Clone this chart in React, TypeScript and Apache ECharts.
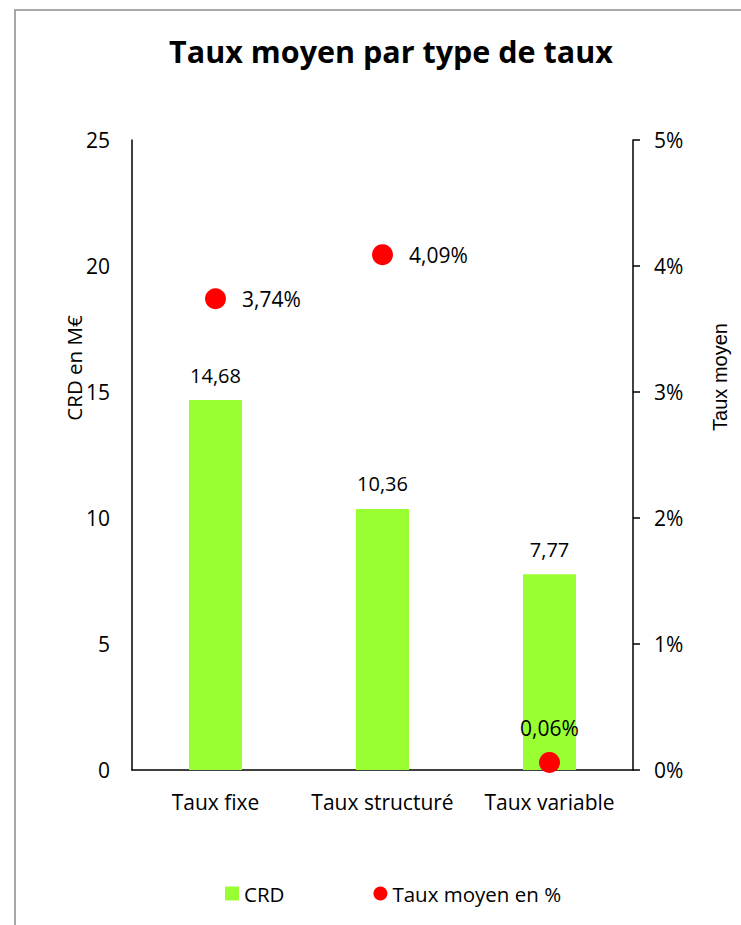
import React, { useEffect, useRef } from "react";
import * as echarts from "echarts";

const categories = ["Taux fixe", "Taux structuré", "Taux variable"];
const crdValues = [14.68, 10.36, 7.77];
const tauxValues = [3.74, 4.09, 0.06];
const leftTicks = { min: 0, max: 25, interval: 5 };
const rightTicks = { min: 0, max: 5, interval: 1 };

const FONT = "'Open Sans', sans-serif";
const FS = 21;
const fmt = (v: number, d = 2) => v.toFixed(d).replace(".", ",");

export default function App() {
  const ref = useRef<HTMLDivElement>(null);
  useEffect(() => {
    if (!ref.current) return;
    const chart = echarts.init(ref.current, null, { renderer: "svg" });
    chart.setOption({
      animation: false,
      backgroundColor: "#fff",
      textStyle: { fontFamily: FONT },
      title: {
        text: "Taux moyen par type de taux",
        left: 386,
        top: 30,
        textAlign: "center",
        textStyle: { fontFamily: FONT, fontSize: 30.5, fontWeight: "bold", color: "#000" },
      },
      graphic: [
        {
          type: "rect",
          shape: { x: 15, y: 10, width: 900, height: 1000 },
          style: { fill: "none", stroke: "#8c8c8c", lineWidth: 1.5 },
          silent: true,
        },
        {
          type: "text",
          x: 74,
          y: 368,
          rotation: Math.PI / 2,
          style: {
            text: "CRD en M€",
            fontFamily: FONT,
            fontSize: 20.5,
            fill: "#000",
            align: "center",
            verticalAlign: "middle",
          },
        },
        {
          type: "text",
          x: 720,
          y: 377,
          rotation: Math.PI / 2,
          style: {
            text: "Taux moyen",
            fontFamily: "'Liberation Sans', Arial, sans-serif",
            fontSize: 20,
            fill: "#000",
            align: "center",
            verticalAlign: "middle",
          },
        },
      ],
      legend: {
        left: 220,
        top: 878,
        itemGap: 89,
        itemWidth: 14,
        itemHeight: 14,
        textStyle: { fontFamily: FONT, fontSize: 20.5, color: "#000" },
        data: [
          { name: "CRD", icon: "rect" },
          { name: "Taux moyen en %", icon: "circle" },
        ],
      },
      grid: { left: 132, right: 108, top: 140, bottom: 155 },
      xAxis: {
        type: "category",
        data: categories,
        axisLine: { lineStyle: { color: "#000", width: 1.5 } },
        axisTick: { show: false },
        axisLabel: {
          interval: 0,
          hideOverlap: false,
          fontFamily: FONT,
          fontSize: FS,
          color: "#000",
          margin: 21,
        },
      },
      yAxis: [
        {
          type: "value",
          ...leftTicks,
          axisLine: { show: true, lineStyle: { color: "#000", width: 1.5 } },
          axisTick: { show: false },
          splitLine: { show: false },
          axisLabel: { fontFamily: FONT, fontSize: FS, color: "#000", margin: 22 },
        },
        {
          type: "value",
          ...rightTicks,
          position: "right",
          axisLine: { show: true, lineStyle: { color: "#000", width: 1.5 } },
          axisTick: { show: true, length: 7, lineStyle: { color: "#000", width: 1.5 } },
          splitLine: { show: false },
          axisLabel: {
            fontFamily: FONT,
            fontSize: FS,
            color: "#000",
            margin: 21,
            formatter: (v: number) => `${v}%`,
          },
        },
      ],
      series: [
        {
          name: "CRD",
          type: "bar",
          yAxisIndex: 0,
          barWidth: 53,
          data: crdValues,
          itemStyle: { color: "#99FF33" },
          label: {
            show: true,
            position: "top",
            distance: 15,
            fontFamily: FONT,
            fontSize: 20,
            color: "#000",
            formatter: (p: any) => fmt(p.value),
          },
        },
        {
          name: "Taux moyen en %",
          type: "scatter",
          yAxisIndex: 1,
          symbol: "circle",
          symbolSize: 21,
          itemStyle: { color: "#FF0000", opacity: 1 },
          data: tauxValues.map((v, i) => ({
            value: v,
            label:
              i === 2
                ? { position: "top", distance: 13 }
                : { position: "right", distance: 16 },
          })),
          label: {
            show: true,
            fontFamily: FONT,
            fontSize: FS,
            color: "#000",
            opacity: 1,
            formatter: (p: any) => `${fmt(p.value)}%`,
          },
          z: 5,
        },
      ],
    });
    return () => chart.dispose();
  }, []);
  return (
    <div
      ref={ref}
      style={{ position: "absolute", left: 0, top: 0, width: 741, height: 925 }}
    />
  );
}
